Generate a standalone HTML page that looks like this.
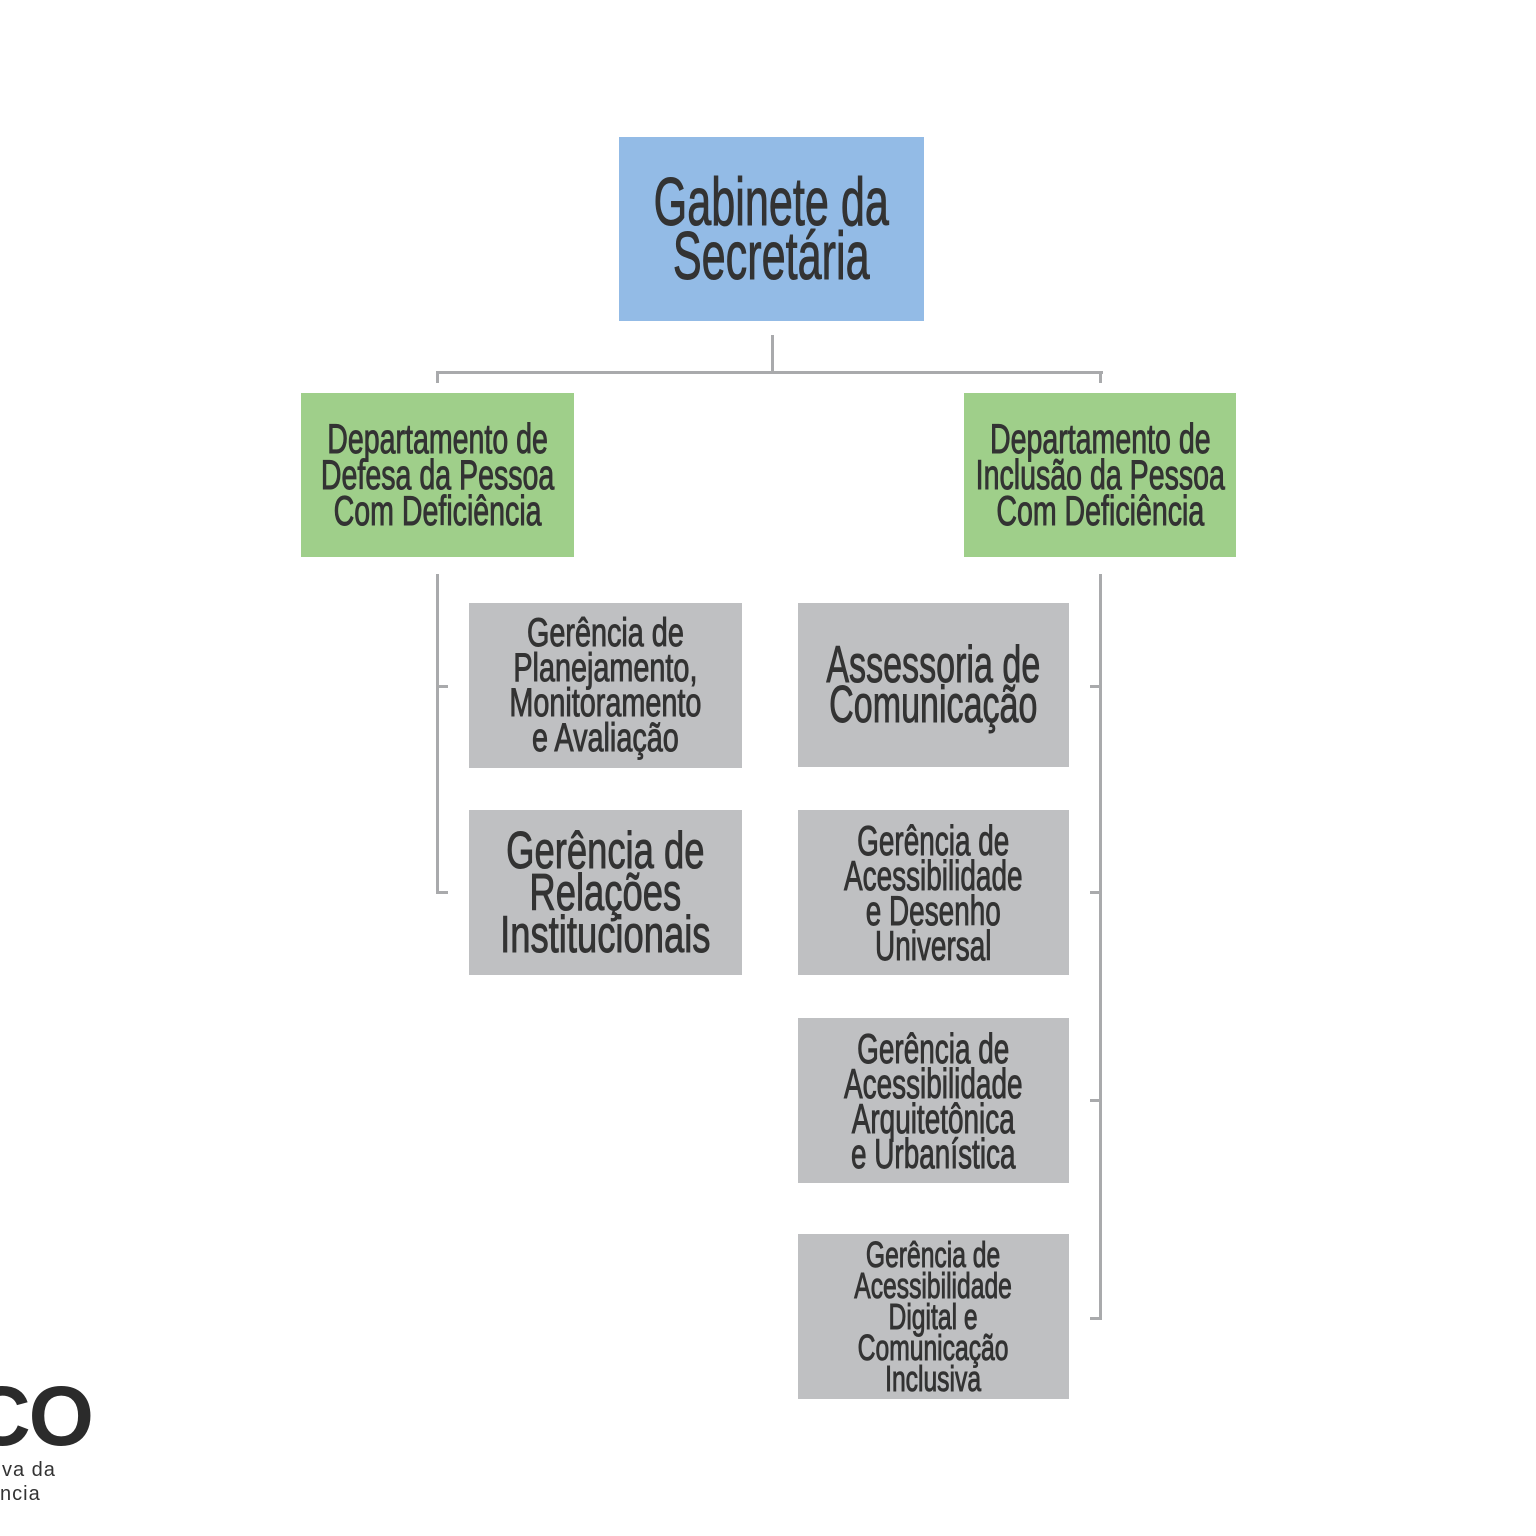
<!DOCTYPE html>
<html><head><meta charset="utf-8"><style>
body{margin:0;width:1536px;height:1536px;background:#fff;position:relative;overflow:hidden;font-family:"Liberation Sans",sans-serif;}
.b{position:absolute;display:flex;align-items:center;justify-content:center;color:#333;}
.t{flex:none;text-align:center;white-space:nowrap;transform:scaleX(0.62);-webkit-text-stroke:1px #333;}
.l{position:absolute;background:#a9aaac;}
.blue{background:#93bbe6}.green{background:#9fcf8a}.gray{background:#bfc0c2}
</style></head><body>
<div class="b blue" style="left:619px;top:137px;width:305px;height:184px"><div class="t" style="font-size:68px;line-height:54px;transform:scaleX(0.635)">Gabinete da<br>Secretária</div></div>
<div class="b green" style="left:301px;top:393px;width:273px;height:164px"><div class="t" style="font-size:42px;line-height:36px;transform:scaleX(0.68)">Departamento de<br>Defesa da Pessoa<br>Com Deficiência</div></div>
<div class="b green" style="left:964px;top:393px;width:272px;height:164px"><div class="t" style="font-size:42px;line-height:36px;transform:scaleX(0.68)">Departamento de<br>Inclusão da Pessoa<br>Com Deficiência</div></div>
<div class="b gray" style="left:469px;top:603px;width:273px;height:165px"><div class="t" style="font-size:40px;line-height:35px;transform:scaleX(0.72)">Gerência de<br>Planejamento,<br>Monitoramento<br>e Avaliação</div></div>
<div class="b gray" style="left:469px;top:810px;width:273px;height:165px"><div class="t" style="font-size:52px;line-height:42px;transform:scaleX(0.70)">Gerência de<br>Relações<br>Institucionais</div></div>
<div class="b gray" style="left:798px;top:603px;width:271px;height:164px"><div class="t" style="font-size:52px;line-height:40px;transform:scaleX(0.655)">Assessoria de<br>Comunicação</div></div>
<div class="b gray" style="left:798px;top:810px;width:271px;height:165px"><div class="t" style="font-size:42px;line-height:35px;transform:scaleX(0.665)">Gerência de<br>Acessibilidade<br>e Desenho<br>Universal</div></div>
<div class="b gray" style="left:798px;top:1018px;width:271px;height:165px"><div class="t" style="font-size:42px;line-height:35px;transform:scaleX(0.665)">Gerência de<br>Acessibilidade<br>Arquitetônica<br>e Urbanística</div></div>
<div class="b gray" style="left:798px;top:1234px;width:271px;height:165px"><div class="t" style="font-size:36px;line-height:31px;transform:scaleX(0.685)">Gerência de<br>Acessibilidade<br>Digital e<br>Comunicação<br>Inclusiva</div></div>
<div class="l" style="left:771px;top:335px;width:3px;height:38px"></div>
<div class="l" style="left:436px;top:371px;width:667px;height:3px"></div>
<div class="l" style="left:436px;top:371px;width:3px;height:12px"></div>
<div class="l" style="left:1099px;top:371px;width:3px;height:12px"></div>
<div class="l" style="left:436px;top:574px;width:3px;height:320px"></div>
<div class="l" style="left:436px;top:685px;width:12px;height:3px"></div>
<div class="l" style="left:436px;top:891px;width:12px;height:3px"></div>
<div class="l" style="left:1099px;top:574px;width:3px;height:746px"></div>
<div class="l" style="left:1090px;top:685px;width:12px;height:3px"></div>
<div class="l" style="left:1090px;top:891px;width:12px;height:3px"></div>
<div class="l" style="left:1090px;top:1099px;width:12px;height:3px"></div>
<div class="l" style="left:1090px;top:1317px;width:12px;height:3px"></div>
<div style="position:absolute;left:-30px;top:1374px;font-size:84px;font-weight:bold;color:#2b2b2b;letter-spacing:-2px;line-height:84px;">CO</div>
<div style="position:absolute;left:2px;top:1458px;font-size:20px;color:#333;line-height:24px;letter-spacing:1px">va da<br><span style="margin-left:-2px">ncia</span></div>
</body></html>
